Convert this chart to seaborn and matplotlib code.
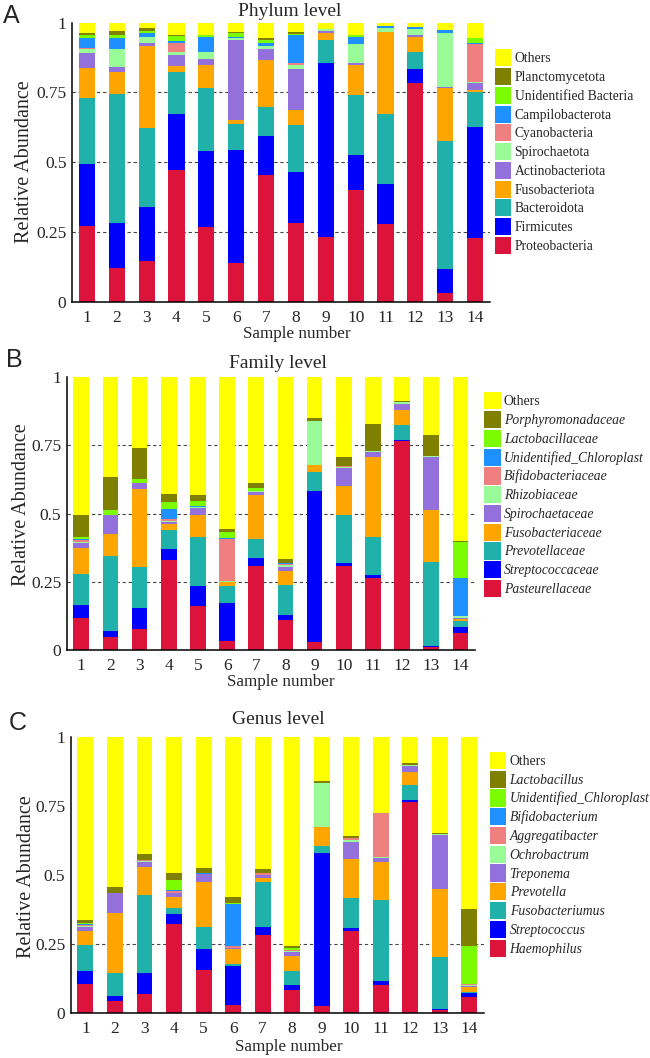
import numpy as np
import pandas as pd
import matplotlib
matplotlib.use("Agg")
import matplotlib.pyplot as plt
from matplotlib.patches import Patch
import seaborn as sns

# sample ids
samples = [str(i) for i in range(1, 15)]

# colours shared by all three panels (bottom of stack -> top)
layer_colors = ["#DC143C", "#0000FF", "#20B2AA", "#FFA500", "#9370DB", "#98FB98",
                "#F08080", "#1E90FF", "#7CFC00", "#808000", "#FFFF00"]

# Phylum level
phylum_names = ["Proteobacteria", "Firmicutes", "Bacteroidota", "Fusobacteriota",
                "Actinobacteriota", "Spirochaetota", "Cyanobacteria", "Campilobacterota",
                "Unidentified Bacteria", "Planctomycetota", "Others"]
proteobacteria = [0.271, 0.119, 0.146, 0.473, 0.269, 0.137, 0.454, 0.282, 0.232, 0.400, 0.280, 0.784, 0.032, 0.227]
firmicutes = [0.224, 0.164, 0.193, 0.200, 0.272, 0.407, 0.141, 0.184, 0.622, 0.127, 0.143, 0.051, 0.084, 0.398]
bacteroidota = [0.236, 0.460, 0.285, 0.149, 0.226, 0.094, 0.104, 0.167, 0.084, 0.214, 0.248, 0.061, 0.460, 0.125]
fusobacteriota = [0.107, 0.081, 0.294, 0.024, 0.082, 0.013, 0.167, 0.055, 0.026, 0.107, 0.294, 0.054, 0.189, 0.009]
actinobacteriota = [0.054, 0.016, 0.010, 0.037, 0.021, 0.287, 0.038, 0.146, 0.007, 0.009, 0.003, 0.006, 0.006, 0.024]
spirochaetota = [0.012, 0.066, 0.022, 0.011, 0.026, 0.007, 0.011, 0.013, 0.005, 0.065, 0.014, 0.020, 0.192, 0.003]
cyanobacteria = [0.005, 0.0, 0.0, 0.034, 0.0, 0.0, 0.0, 0.008, 0.0, 0.0, 0.0, 0.0, 0.0, 0.136]
campilobacterota = [0.036, 0.039, 0.013, 0.007, 0.051, 0.004, 0.011, 0.100, 0.0, 0.025, 0.007, 0.007, 0.012, 0.006]
unidentified_bacteria = [0.012, 0.010, 0.007, 0.017, 0.010, 0.013, 0.012, 0.006, 0.0, 0.010, 0.0, 0.0, 0.0, 0.018]
planctomycetota = [0.006, 0.016, 0.011, 0.003, 0.0, 0.005, 0.008, 0.004, 0.0, 0.0, 0.0, 0.0, 0.0, 0.0]
phylum_others = [0.037, 0.029, 0.019, 0.045, 0.043, 0.033, 0.054, 0.035, 0.024, 0.043, 0.011, 0.017, 0.025, 0.054]

# Family level
family_names = ["Pasteurellaceae", "Streptococcaceae", "Prevotellaceae", "Fusobacteriaceae",
                "Spirochaetaceae", "Rhizobiaceae", "Bifidobacteriaceae", "Unidentified_Chloroplast",
                "Lactobacillaceae", "Porphyromonadaceae", "Others"]
pasteurellaceae = [0.119, 0.049, 0.076, 0.330, 0.160, 0.032, 0.308, 0.111, 0.028, 0.309, 0.263, 0.765, 0.010, 0.062]
streptococcaceae = [0.046, 0.019, 0.077, 0.040, 0.075, 0.142, 0.029, 0.017, 0.555, 0.010, 0.012, 0.006, 0.006, 0.022]
prevotellaceae = [0.113, 0.278, 0.153, 0.070, 0.178, 0.059, 0.069, 0.109, 0.071, 0.174, 0.141, 0.053, 0.308, 0.021]
fusobacteriaceae = [0.097, 0.081, 0.283, 0.021, 0.082, 0.015, 0.162, 0.052, 0.024, 0.106, 0.293, 0.055, 0.188, 0.009]
spirochaetaceae = [0.016, 0.068, 0.022, 0.008, 0.025, 0.003, 0.013, 0.015, 0.0, 0.066, 0.017, 0.023, 0.195, 0.004]
rhizobiaceae = [0.005, 0.0, 0.0, 0.005, 0.006, 0.003, 0.003, 0.007, 0.163, 0.007, 0.002, 0.006, 0.004, 0.008]
bifidobacteriaceae = [0.006, 0.0, 0.0, 0.005, 0.0, 0.153, 0.0, 0.003, 0.0, 0.003, 0.0, 0.0, 0.0, 0.0]
chloroplast_fam = [0.004, 0.0, 0.0, 0.038, 0.002, 0.005, 0.0, 0.005, 0.0, 0.0, 0.0, 0.0, 0.0, 0.139]
lactobacillaceae = [0.007, 0.020, 0.017, 0.027, 0.017, 0.022, 0.011, 0.001, 0.0, 0.0, 0.002, 0.0, 0.0, 0.131]
porphyromonadaceae = [0.081, 0.121, 0.113, 0.028, 0.023, 0.010, 0.016, 0.015, 0.010, 0.031, 0.100, 0.004, 0.079, 0.005]
family_others = [0.506, 0.364, 0.259, 0.428, 0.432, 0.556, 0.389, 0.665, 0.149, 0.293, 0.170, 0.088, 0.210, 0.599]

# Genus level
genus_names = ["Haemophilus", "Streptococcus", "Fusobacteriumus", "Prevotella", "Treponema",
               "Ochrobactrum", "Aggregatibacter", "Bifidobacterium", "Unidentified_Chloroplast",
               "Lactobacillus", "Others"]
haemophilus = [0.104, 0.041, 0.068, 0.320, 0.156, 0.028, 0.283, 0.083, 0.025, 0.297, 0.101, 0.762, 0.010, 0.056]
streptococcus = [0.046, 0.021, 0.075, 0.037, 0.073, 0.142, 0.027, 0.017, 0.555, 0.009, 0.015, 0.007, 0.004, 0.016]
fusobacteriumus = [0.094, 0.081, 0.283, 0.022, 0.081, 0.008, 0.162, 0.051, 0.024, 0.108, 0.292, 0.055, 0.189, 0.004]
prevotella = [0.053, 0.219, 0.101, 0.041, 0.163, 0.051, 0.016, 0.056, 0.069, 0.142, 0.138, 0.048, 0.245, 0.016]
treponema = [0.015, 0.070, 0.020, 0.015, 0.028, 0.007, 0.010, 0.014, 0.0, 0.064, 0.016, 0.023, 0.196, 0.005]
ochrobactrum = [0.002, 0.0, 0.002, 0.0, 0.0, 0.0, 0.002, 0.003, 0.160, 0.006, 0.002, 0.003, 0.002, 0.004]
aggregatibacter = [0.003, 0.0, 0.004, 0.005, 0.0, 0.004, 0.005, 0.004, 0.0, 0.006, 0.158, 0.0, 0.0, 0.004]
bifidobacterium = [0.006, 0.0, 0.0, 0.004, 0.004, 0.155, 0.0, 0.0, 0.0, 0.0, 0.0, 0.0, 0.0, 0.0]
chloroplast_gen = [0.002, 0.0, 0.002, 0.037, 0.0, 0.002, 0.002, 0.006, 0.0, 0.0, 0.0, 0.0, 0.0, 0.138]
lactobacillus = [0.011, 0.022, 0.020, 0.026, 0.019, 0.023, 0.012, 0.008, 0.008, 0.008, 0.0, 0.005, 0.004, 0.131]
genus_others = [0.664, 0.546, 0.425, 0.493, 0.476, 0.580, 0.481, 0.758, 0.159, 0.360, 0.278, 0.097, 0.350, 0.626]

phylum_layers = [proteobacteria, firmicutes, bacteroidota, fusobacteriota, actinobacteriota,
                 spirochaetota, cyanobacteria, campilobacterota, unidentified_bacteria,
                 planctomycetota, phylum_others]
family_layers = [pasteurellaceae, streptococcaceae, prevotellaceae, fusobacteriaceae,
                 spirochaetaceae, rhizobiaceae, bifidobacteriaceae, chloroplast_fam,
                 lactobacillaceae, porphyromonadaceae, family_others]
genus_layers = [haemophilus, streptococcus, fusobacteriumus, prevotella, treponema,
                ochrobactrum, aggregatibacter, bifidobacterium, chloroplast_gen,
                lactobacillus, genus_others]

sns.set_style("white")
serif = ["Liberation Serif", "DejaVu Serif"]
plt.rcParams["font.family"] = serif
plt.rcParams["axes.linewidth"] = 1.1

W, H = 650, 1058
fig = plt.figure(figsize=(W / 100, H / 100), dpi=100)


def px_rect(left, top, right, bottom):
    return [left / W, 1 - bottom / H, (right - left) / W, (bottom - top) / H]


def stacked_panel(rect, names, layers, grid_levels, title, title_xy, xlab_xy, ylab_xy,
                  letter, letter_xy, leg_anchor, italic):
    ax = fig.add_axes(rect)
    df = pd.DataFrame(np.array(layers).T, columns=names, index=samples)
    df = df.div(df.sum(axis=1), axis=0)
    cum = df.cumsum(axis=1)
    # draw from the top of the stack down so each layer overlaps the one above
    for name, col in zip(names[::-1], layer_colors[::-1]):
        sns.barplot(x=samples, y=cum[name].values, color=col, width=0.54,
                    saturation=1, linewidth=0, ax=ax, zorder=2)
    for g in grid_levels:
        ax.axhline(g, color="#444444", lw=0.8, ls=(0, (3, 2.5)), zorder=1)
    ax.set_xlim(-0.5, 13.5)
    ax.set_ylim(0, 1)
    ax.set_yticks([0, 0.25, 0.5, 0.75, 1])
    ax.set_yticklabels(["0", "0.25", "0.5", "0.75", "1"])
    ax.set_xticks(range(14))
    ax.set_xticklabels(samples)
    ax.set_xticks(np.arange(0.5, 13.5, 1), minor=True)
    ax.tick_params(axis="x", which="major", length=0, labelsize=12.5, pad=6)
    ax.tick_params(axis="x", which="minor", length=3, width=1.1, direction="out", color="black")
    ax.tick_params(axis="y", length=3, width=1.1, direction="out", labelsize=12.5, pad=1, color="black")
    ax.set_xlabel("")
    ax.set_ylabel("")
    sns.despine(ax=ax)
    for s in ["left", "bottom"]:
        ax.spines[s].set_color("black")

    fig.text(title_xy[0] / W, 1 - title_xy[1] / H, title, ha="center", va="center", fontsize=14)
    fig.text(xlab_xy[0] / W, 1 - xlab_xy[1] / H, "Sample number", ha="center", va="center", fontsize=12.3)
    fig.text(ylab_xy[0] / W, 1 - ylab_xy[1] / H, "Relative Abundance", ha="center", va="center",
             rotation=90, fontsize=14.5)
    fig.text(letter_xy[0] / W, 1 - letter_xy[1] / H, letter, ha="left", va="center",
             fontsize=18, family=["Liberation Sans", "DejaVu Sans"])

    handles = [Patch(facecolor=c, edgecolor="none") for c in layer_colors[::-1]]
    leg = ax.legend(handles, names[::-1], loc="upper left", bbox_to_anchor=leg_anchor,
                    frameon=False, borderaxespad=0, borderpad=0, handlelength=1.19,
                    handleheight=1.56, labelspacing=0.12, handletextpad=0.25,
                    prop={"family": serif, "size": 9.8})
    if italic:
        for t in leg.get_texts():
            if t.get_text() != "Others":
                t.set_fontstyle("italic")
    return ax


stacked_panel(px_rect(72, 22.7, 490, 301.7), phylum_names, phylum_layers, [0.25, 0.5, 0.75],
              "Phylum level", (290, 11), (297, 334), (25, 162), "A", (3, 16),
              (1.012, 0.905), False)
stacked_panel(px_rect(66.7, 377.3, 475, 650), family_names, family_layers, [0.25, 0.5, 0.75],
              "Family level", (278, 364), (281, 682), (22, 505), "B", (6, 360),
              (1.023, 0.945), True)
stacked_panel(px_rect(70.7, 736.7, 484, 1012.7), genus_names, genus_layers, [0.25],
              "Genus level", (278, 720), (289, 1047), (27, 877), "C", (9, 723),
              (1.0145, 0.945), True)

fig.savefig("out.png", dpi=100)
